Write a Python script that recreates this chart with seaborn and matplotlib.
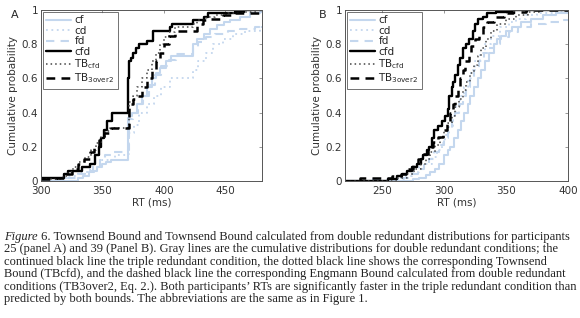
import matplotlib
matplotlib.use('Agg')
import matplotlib.pyplot as plt
import seaborn as sns
import pandas as pd

# ---- panel A (participant 25): step breakpoints, RT (ms) -> cumulative probability
a_cf_rt = [300, 330, 334, 339, 343, 346, 350, 353, 357, 371, 372, 374, 378, 382, 386, 390, 394, 397, 402, 406, 424, 427, 433, 438, 443, 449, 454, 462, 470, 478]
a_cf_p = [0.0, 0.02, 0.03, 0.05, 0.06, 0.08, 0.10, 0.11, 0.12, 0.37, 0.38, 0.40, 0.45, 0.50, 0.55, 0.60, 0.63, 0.66, 0.70, 0.73, 0.80, 0.83, 0.86, 0.89, 0.91, 0.93, 0.94, 0.96, 0.98, 0.99]

a_cd_rt = [300, 312, 320, 330, 340, 350, 360, 371, 372, 376, 380, 386, 392, 398, 405, 424, 428, 434, 440, 448, 456, 466, 478]
a_cd_p = [0.0, 0.01, 0.03, 0.05, 0.08, 0.12, 0.15, 0.16, 0.28, 0.33, 0.40, 0.45, 0.50, 0.55, 0.60, 0.65, 0.70, 0.75, 0.80, 0.83, 0.86, 0.88, 0.90]

a_fd_rt = [300, 322, 330, 336, 342, 348, 352, 358, 371, 372, 375, 379, 383, 388, 393, 398, 404, 410, 424, 428, 434, 442, 452, 462, 474]
a_fd_p = [0.0, 0.02, 0.04, 0.06, 0.09, 0.12, 0.15, 0.17, 0.18, 0.36, 0.40, 0.45, 0.50, 0.56, 0.62, 0.67, 0.71, 0.74, 0.78, 0.81, 0.84, 0.86, 0.88, 0.89, 0.90]

a_cfd_rt = [300, 319, 322, 330, 333, 340, 344, 347, 349, 351, 354, 358, 371, 372, 373, 375, 377, 380, 386, 391, 405, 407, 409, 424, 426, 433, 436, 443, 458, 465]
a_cfd_p = [0.02, 0.04, 0.06, 0.06, 0.08, 0.10, 0.15, 0.20, 0.25, 0.30, 0.35, 0.40, 0.60, 0.70, 0.72, 0.75, 0.78, 0.80, 0.82, 0.875, 0.90, 0.92, 0.92, 0.94, 0.94, 0.96, 0.98, 0.98, 0.99, 1.0]

a_tbcfd_rt = [300, 318, 322, 326, 331, 336, 341, 345, 349, 352, 356, 371, 372, 375, 378, 382, 386, 390, 394, 397, 400, 404, 409, 424, 427, 434, 442, 452, 466, 476]
a_tbcfd_p = [0.01, 0.03, 0.05, 0.08, 0.11, 0.14, 0.18, 0.22, 0.26, 0.29, 0.31, 0.32, 0.46, 0.50, 0.55, 0.60, 0.65, 0.70, 0.75, 0.80, 0.84, 0.87, 0.90, 0.92, 0.94, 0.96, 0.97, 0.98, 0.99, 1.0]

a_tb32_rt = [300, 312, 320, 325, 330, 335, 340, 343, 347, 351, 357, 371, 372, 375, 378, 382, 386, 390, 394, 397, 400, 404, 409, 424, 427, 432, 437, 448, 456, 478]
a_tb32_p = [0.01, 0.02, 0.04, 0.07, 0.10, 0.13, 0.17, 0.20, 0.24, 0.28, 0.31, 0.31, 0.45, 0.48, 0.50, 0.55, 0.60, 0.65, 0.70, 0.75, 0.80, 0.85, 0.88, 0.88, 0.92, 0.94, 0.95, 0.97, 0.98, 1.0]

# ---- panel B (participant 39)
b_cf_rt = [220, 275, 280, 285, 289, 293, 296, 300, 303, 305, 308, 311, 314, 316, 319, 321, 324, 327, 330, 333, 336, 340, 343, 346, 350, 355, 362, 370, 380, 390]
b_cf_p = [0.0, 0.01, 0.02, 0.035, 0.05, 0.07, 0.10, 0.15, 0.18, 0.20, 0.25, 0.30, 0.35, 0.40, 0.45, 0.50, 0.55, 0.60, 0.65, 0.70, 0.75, 0.80, 0.83, 0.85, 0.88, 0.90, 0.93, 0.95, 0.97, 0.98]

b_cd_rt = [220, 262, 268, 274, 280, 285, 290, 294, 298, 301, 304, 307, 310, 313, 316, 319, 322, 325, 329, 333, 338, 345, 352, 358, 366, 375, 388]
b_cd_p = [0.0, 0.01, 0.03, 0.05, 0.08, 0.10, 0.14, 0.18, 0.22, 0.27, 0.32, 0.38, 0.44, 0.50, 0.55, 0.60, 0.65, 0.70, 0.75, 0.80, 0.85, 0.90, 0.93, 0.95, 0.97, 0.98, 0.99]

b_fd_rt = [220, 240, 265, 272, 279, 284, 288, 292, 296, 300, 303, 306, 309, 312, 315, 318, 321, 324, 328, 332, 336, 340, 345, 352, 360, 370, 382, 395]
b_fd_p = [0.0, 0.01, 0.02, 0.04, 0.07, 0.10, 0.13, 0.17, 0.21, 0.25, 0.30, 0.35, 0.40, 0.45, 0.50, 0.55, 0.60, 0.65, 0.70, 0.75, 0.78, 0.80, 0.84, 0.87, 0.90, 0.92, 0.93, 0.94]

b_cfd_rt = [220, 255, 262, 266, 270, 274, 278, 281, 283, 286, 288, 290, 292, 295, 298, 301, 303, 304, 306, 307, 309, 311, 313, 315, 318, 320, 323, 325, 327, 331, 335, 342, 355]
b_cfd_p = [0.0, 0.01, 0.03, 0.04, 0.06, 0.08, 0.10, 0.13, 0.15, 0.18, 0.20, 0.25, 0.30, 0.32, 0.35, 0.38, 0.42, 0.50, 0.55, 0.58, 0.62, 0.68, 0.72, 0.78, 0.80, 0.83, 0.88, 0.92, 0.95, 0.96, 0.98, 0.99, 1.0]

b_tbcfd_rt = [220, 262, 270, 276, 281, 285, 289, 293, 297, 300, 303, 306, 309, 312, 315, 318, 321, 324, 327, 330, 334, 338, 343, 350, 358, 368, 378]
b_tbcfd_p = [0.0, 0.02, 0.04, 0.07, 0.10, 0.13, 0.17, 0.21, 0.25, 0.29, 0.34, 0.38, 0.43, 0.48, 0.53, 0.58, 0.63, 0.68, 0.73, 0.78, 0.83, 0.88, 0.92, 0.95, 0.97, 0.99, 1.0]

b_tb32_rt = [220, 232, 250, 258, 265, 270, 275, 279, 283, 287, 291, 295, 299, 302, 305, 307, 309, 311, 313, 315, 317, 320, 322, 325, 328, 331, 335, 340, 348, 356, 366]
b_tb32_p = [0.0, 0.02, 0.02, 0.03, 0.04, 0.07, 0.10, 0.13, 0.16, 0.20, 0.23, 0.26, 0.30, 0.35, 0.40, 0.45, 0.50, 0.55, 0.60, 0.65, 0.70, 0.75, 0.79, 0.83, 0.86, 0.90, 0.93, 0.96, 0.98, 0.99, 1.0]

labels = ['cf', 'cd', 'fd', 'cfd', r'TB$_{\mathrm{cfd}}$', r'TB$_{\mathrm{3over2}}$']

caption = [
    ' 6. Townsend Bound and Townsend Bound calculated from double redundant distributions for participants',
    '25 (panel A) and 39 (Panel B). Gray lines are the cumulative distributions for double redundant conditions; the',
    'continued black line the triple redundant condition, the dotted black line shows the corresponding Townsend',
    'Bound (TBcfd), and the dashed black line the corresponding Engmann Bound calculated from double redundant',
    'conditions (TB3over2, Eq. 2.). Both participants\u2019 RTs are significantly faster in the triple redundant condition than',
    'predicted by both bounds. The abbreviations are the same as in Figure 1.',
]

LIGHT = '#c4d7ee'
styles = [
    dict(color=LIGHT, linestyle='-', linewidth=1.5),
    dict(color=LIGHT, linestyle=(0, (1, 2)), linewidth=1.3),
    dict(color=LIGHT, linestyle=(0, (4, 3)), linewidth=1.5),
    dict(color='black', linestyle='-', linewidth=1.7),
    dict(color='#444444', linestyle=(0, (1, 2)), linewidth=1.1),
    dict(color='black', linestyle=(0, (3.5, 2.5)), linewidth=1.8),
]


def draw_panel(ax, curves, xlim, xticks, tag, tag_x):
    for (rt, p), lab, st in zip(curves, labels, styles):
        rt = list(rt) + [xlim[1]]
        p = list(p) + [p[-1]]
        df = pd.DataFrame({'RT': rt, 'p': p})
        sns.lineplot(data=df, x='RT', y='p', ax=ax, drawstyle='steps-post',
                     estimator=None, sort=False, label=lab, **st)
    ax.set_xlim(*xlim)
    ax.set_ylim(0, 1)
    ax.set_xticks(xticks)
    ax.set_yticks([0, 0.2, 0.4, 0.6, 0.8, 1])
    ax.set_yticklabels(['0', '0.2', '0.4', '0.6', '0.8', '1'])
    ax.set_xlabel('RT (ms)', fontsize=7.5, labelpad=1, color='#333333')
    ax.set_ylabel('Cumulative probability', fontsize=7.5, labelpad=3, color='#333333')
    ax.tick_params(direction='in', length=2.5, width=0.6, labelsize=7.5,
                   top=True, right=True, colors='#333333', color='#888888')
    ax.tick_params(axis='x', pad=3.5)
    ax.tick_params(axis='y', pad=2)
    for s in ax.spines.values():
        s.set_visible(True)
        s.set_linewidth(0.7)
        s.set_color('#555555')
    leg = ax.legend(loc='upper left', fontsize=7.5, frameon=True, fancybox=False,
                    handlelength=2.4, handletextpad=0.3, labelspacing=0.05,
                    borderpad=0.3, borderaxespad=0.2)
    leg.get_frame().set_edgecolor('#333333')
    leg.get_frame().set_linewidth(0.6)
    ax.text(tag_x, 0.97, tag, transform=ax.transAxes, fontsize=8,
            ha='center', va='center')


sns.set_style('white')
plt.rcParams['font.family'] = ['DejaVu Sans']
fig = plt.figure(figsize=(5.8, 3.18), dpi=100)
axA = fig.add_axes([41 / 580, 1 - 181 / 318, 221 / 580, 171 / 318])
axB = fig.add_axes([345 / 580, 1 - 181 / 318, 223 / 580, 171 / 318])

draw_panel(axA, [(a_cf_rt, a_cf_p), (a_cd_rt, a_cd_p), (a_fd_rt, a_fd_p),
                 (a_cfd_rt, a_cfd_p), (a_tbcfd_rt, a_tbcfd_p), (a_tb32_rt, a_tb32_p)],
           (300, 480), [300, 350, 400, 450], 'A', -0.118)
draw_panel(axB, [(b_cf_rt, b_cf_p), (b_cd_rt, b_cd_p), (b_fd_rt, b_fd_p),
                 (b_cfd_rt, b_cfd_p), (b_tbcfd_rt, b_tbcfd_p), (b_tb32_rt, b_tb32_p)],
           (220, 400), [250, 300, 350, 400], 'B', -0.099)

# caption: first word italic, then the rest on the same baseline
cap_font = dict(family='Liberation Serif', size=9.0, color='#222222')
x0 = 4 / 580
first = fig.text(x0, 1 - 240 / 318, 'Figure', style='italic', va='baseline', **cap_font)
fig.canvas.draw()
bb = first.get_window_extent().transformed(fig.transFigure.inverted())
for i, line in enumerate(caption):
    y = 1 - (240 + i * 12.4) / 318
    fig.text(bb.x1 if i == 0 else x0, y, line, va='baseline', **cap_font)

fig.savefig('out.png', dpi=100)
